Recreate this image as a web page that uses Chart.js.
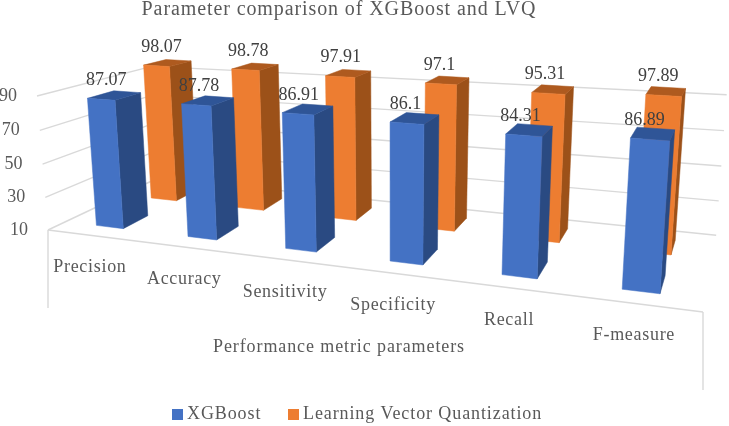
<!DOCTYPE html>
<html>
<head>
<meta charset="utf-8">
<title>Parameter comparison of XGBoost and LVQ</title>
<script src="https://cdn.jsdelivr.net/npm/chart.js@4"></script>
<style>
  body { margin: 0; background: #fff; }
</style>
</head>
<body>
<canvas id="chart" width="729" height="426"></canvas>
<script>
const categories = ['Precision', 'Accuracy', 'Sensitivity', 'Specificity', 'Recall', 'F-measure'];
const xgboostValues = [87.07, 87.78, 86.91, 86.1, 84.31, 86.89];
const lvqValues = [98.07, 98.78, 97.91, 97.1, 95.31, 97.89];
const yTicks = [10, 30, 50, 70, 90];
const chartTitle = 'Parameter comparison of XGBoost and LVQ';
const xAxisTitle = 'Performance metric parameters';

const FONT = '"Liberation Serif", "DejaVu Serif", serif';

// corners of the 3D box on screen, the rest comes from the perspective weights
const O = [48, 230], U = [703, 312], V = [158, 178], W = [37, 96];
const wu = 0.81, wv = 1.178, ww = 0.969;

// u: along categories, v: depth, w: height (can go over 1 for bars past the last gridline)
function project(u, v, w) {
    const d = 1 + (wu - 1) * u + (wv - 1) * v + (ww - 1) * w;
    const px = i => O[i] + u * (wu * U[i] - O[i]) + v * (wv * V[i] - O[i]) + w * (ww * W[i] - O[i]);
    return [px(0) / d, px(1) / d + (3 * v - 3 * u) * w]; // small nudge, the picture is not a clean perspective
}

// same, for the walls: the far right corner sits a bit higher than the bars suggest
function wallPoint(u, v, w) {
    const p = project(u, v, w);
    return [p[0], p[1] - 5 * u * v * w];
}

function line(ctx, a, b) {
    ctx.beginPath();
    ctx.moveTo(a[0], a[1]);
    ctx.lineTo(b[0], b[1]);
    ctx.stroke();
}

function face(ctx, pts, color) {
    ctx.fillStyle = color;
    ctx.strokeStyle = color;
    ctx.lineWidth = 0.5;
    ctx.beginPath();
    pts.forEach((p, i) => i ? ctx.lineTo(p[0], p[1]) : ctx.moveTo(p[0], p[1]));
    ctx.closePath();
    ctx.fill();
    ctx.stroke();
}

const box3d = {
    id: 'box3d',
    beforeDatasetsDraw(chart) {
        const ctx = chart.ctx;
        const xs = chart.scales.x, ys = chart.scales.y;
        const toU = px => (px - xs.left) / xs.width;
        const toW = val => (ys.bottom - ys.getPixelForValue(val)) / ys.height;

        ctx.save();

        // walls and floor
        ctx.strokeStyle = '#d9d9d9';
        ctx.lineWidth = 1.4;
        yTicks.forEach(t => {
            const w = toW(t);
            line(ctx, wallPoint(0, 0, w), wallPoint(0, 1, w));
            line(ctx, wallPoint(0, 1, w), wallPoint(1, 1, w));
        });
        const a = project(0, 0, 0), b = project(1, 0, 0);
        line(ctx, a, b);
        line(ctx, a, [a[0], a[1] + 78]);
        line(ctx, b, [b[0], b[1] + 78]);

        // title
        ctx.fillStyle = '#595959';
        ctx.textAlign = 'center';
        ctx.textBaseline = 'middle';
        ctx.letterSpacing = '0.9px';
        ctx.font = '20px ' + FONT;
        ctx.fillText(chartTitle, 339, 10);

        // y tick labels
        ctx.letterSpacing = '0px';
        ctx.font = '18px ' + FONT;
        ctx.textAlign = 'right';
        yTicks.forEach(t => {
            const p = project(0, 0, toW(t));
            ctx.fillText(String(t), p[0] - 20, p[1]);
        });

        // back row first, then front row
        const rows = [
            { ds: 1, v1: 0.64, v2: 0.86, top: '#ae5a1f', side: '#9c5119' },
            { ds: 0, v1: 0.14, v2: 0.36, top: '#2f5597', side: '#2a4a82' }
        ];
        rows.forEach(r => {
            const ds = chart.data.datasets[r.ds];
            chart.getDatasetMeta(r.ds).data.forEach((bar, i) => {
                const u1 = toU(bar.x - bar.width / 2), u2 = toU(bar.x + bar.width / 2);
                const h = toW(ds.data[i]);
                face(ctx, [project(u2, r.v1, 0), project(u2, r.v2, 0), project(u2, r.v2, h), project(u2, r.v1, h)], r.side);
                face(ctx, [project(u1, r.v1, h), project(u2, r.v1, h), project(u2, r.v2, h), project(u1, r.v2, h)], r.top);
                face(ctx, [project(u1, r.v1, 0), project(u2, r.v1, 0), project(u2, r.v1, h), project(u1, r.v1, h)], ds.backgroundColor);
            });
        });

        // value labels
        ctx.font = '18px ' + FONT;
        ctx.fillStyle = '#404040';
        ctx.textAlign = 'center';
        rows.forEach(r => {
            chart.getDatasetMeta(r.ds).data.forEach((bar, i) => {
                const u = toU(bar.x);
                const val = chart.data.datasets[r.ds].data[i];
                const p = project(u, r.v1, toW(val));
                ctx.fillText(String(val), p[0] + 6 - 12.5 * u, p[1] - 19);
            });
        });

        // category labels along the front edge
        ctx.letterSpacing = '0.7px';
        ctx.fillStyle = '#595959';
        categories.forEach((c, i) => {
            const p = project(toU(xs.getPixelForValue(i)), 0, 0);
            ctx.fillText(c, p[0] - 3, p[1] + 32);
        });
        ctx.letterSpacing = '0.9px';
        ctx.fillText(xAxisTitle, 339, 347);

        // legend
        ctx.textAlign = 'left';
        [[172, 187], [288, 303]].forEach((pos, i) => {
            const ds = chart.data.datasets[i];
            ctx.fillStyle = ds.backgroundColor;
            ctx.fillRect(pos[0], 409, 11, 11);
            ctx.fillStyle = '#595959';
            ctx.fillText(ds.label, pos[1], 414);
        });

        ctx.restore();
        return false;
    }
};

new Chart(document.getElementById('chart'), {
    type: 'bar',
    data: {
        labels: categories,
        datasets: [
            { label: 'XGBoost', data: xgboostValues, backgroundColor: '#4472c4', borderWidth: 0 },
            { label: 'Learning Vector Quantization', data: lvqValues, backgroundColor: '#ed7d31', borderWidth: 0 }
        ]
    },
    options: {
        responsive: false,
        animation: false,
        grouped: false,
        barPercentage: 0.3,
        categoryPercentage: 1,
        scales: {
            x: { display: false },
            y: { display: false, min: yTicks[0], max: yTicks[yTicks.length - 1] }
        },
        plugins: {
            title: { display: false },
            legend: { display: false },
            tooltip: { enabled: false }
        }
    },
    plugins: [box3d]
});
</script>
</body>
</html>
